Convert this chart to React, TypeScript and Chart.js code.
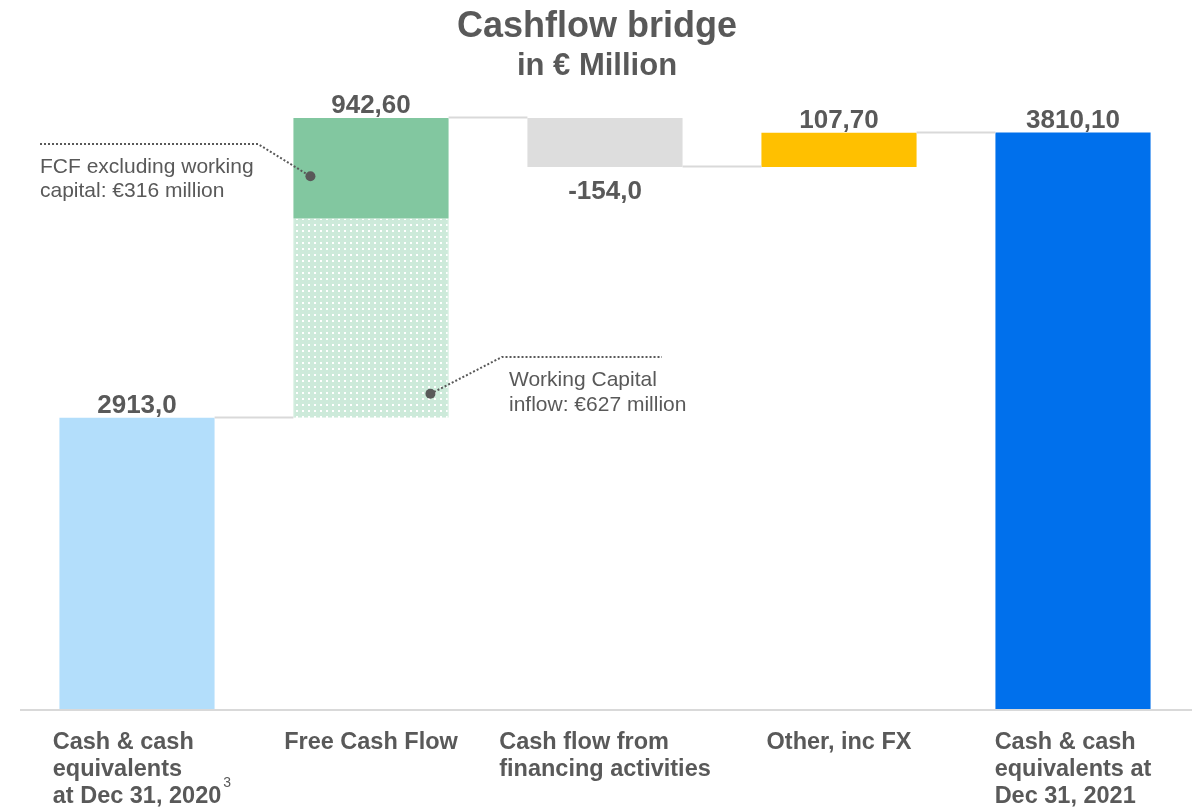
import React, { useEffect, useRef } from "react";
import { Chart, registerables } from "chart.js";

Chart.register(...registerables);

// ---------- data ----------
const categories: string[][] = [
  ["Cash & cash", "equivalents", "at Dec 31, 2020"],
  ["Free Cash Flow"],
  ["Cash flow from", "financing activities"],
  ["Other, inc FX"],
  ["Cash & cash", "equivalents at", "Dec 31, 2021"],
];
const footnotes = ["3", "", "", "", ""];
const barKinds = ["total", "delta", "delta", "delta", "total"];
const barValues = [2913.0, 942.6, -154.0, 107.7, 3810.1];
const valueDecimals = [1, 2, 1, 2, 2];
const workingCapitalInflow = 627; // lower (dotted) part of Free Cash Flow
const fcfExclWorkingCapital = 316;
const barColors = ["#B3DEFB", "#82C7A0", "#DDDDDD", "#FFC000", "#0070EC"];
const axisMin = 1994;
const axisMax = 3900;

const TEXT = "#595959";
const FONT = "'Liberation Sans', Arial, sans-serif";

function fmt(v: number, d: number) {
  return v.toFixed(d).replace(".", ",");
}

// floating ranges and running levels
const ranges: [number, number][] = [];
const levels: number[] = [];
{
  let running = 0;
  barValues.forEach((v, i) => {
    if (barKinds[i] === "total") {
      ranges.push([axisMin, v]);
      running = v;
    } else {
      const a = running;
      const b = running + v;
      ranges.push([Math.min(a, b), Math.max(a, b)]);
      running = b;
    }
    levels.push(running);
  });
}
// split the Free Cash Flow bar: solid top part + dotted working-capital part
const solidData: ([number, number] | null)[] = ranges.map((r, i) =>
  i === 1 ? [r[0] + workingCapitalInflow, r[1]] : r
);
const dottedData: ([number, number] | null)[] = ranges.map((r, i) =>
  i === 1 ? [r[0], r[0] + workingCapitalInflow] : null
);

function makePattern(): CanvasPattern | string {
  const c = document.createElement("canvas");
  c.width = 6;
  c.height = 6;
  const g = c.getContext("2d");
  if (!g) return "#CFEBDC";
  g.fillStyle = "#CDEADA";
  g.fillRect(0, 0, 6, 6);
  g.fillStyle = "#FFFFFF";
  g.fillRect(2, 2, 2, 2);
  return g.createPattern(c, "repeat") || "#CFEBDC";
}

const overlayPlugin = {
  id: "bridgeOverlay",
  afterDatasetsDraw(chart: any) {
    const ctx: CanvasRenderingContext2D = chart.ctx;
    const y = chart.scales.y;
    const area = chart.chartArea;
    const meta = chart.getDatasetMeta(0);
    const bars = meta.data;
    ctx.save();

    // axis line
    ctx.strokeStyle = "#D9D9D9";
    ctx.lineWidth = 2;
    ctx.beginPath();
    ctx.moveTo(area.left, area.bottom);
    ctx.lineTo(chart.width, area.bottom);
    ctx.stroke();

    // connectors
    for (let i = 0; i < bars.length - 1; i++) {
      const b = bars[i];
      const n = bars[i + 1];
      const py = Math.round(y.getPixelForValue(levels[i])) - 0.5;
      ctx.beginPath();
      ctx.moveTo(b.x + b.width / 2, py);
      ctx.lineTo(n.x - n.width / 2, py);
      ctx.stroke();
    }

    // value labels
    ctx.fillStyle = TEXT;
    ctx.font = `bold 26px ${FONT}`;
    ctx.textAlign = "center";
    ctx.textBaseline = "alphabetic";
    barValues.forEach((v, i) => {
      const b = bars[i];
      const r = ranges[i];
      const txt = fmt(v, valueDecimals[i]);
      if (barKinds[i] === "delta" && v < 0) {
        ctx.fillText(txt, b.x, y.getPixelForValue(r[0]) + 32);
      } else {
        ctx.fillText(txt, b.x, y.getPixelForValue(r[1]) - 5);
      }
    });

    // category labels (centered block, left-aligned lines)
    ctx.font = `bold 23.5px ${FONT}`;
    ctx.textAlign = "left";
    categories.forEach((lines, i) => {
      const b = bars[i];
      const w = Math.max(...lines.map((l) => ctx.measureText(l).width));
      const x0 = b.x - w / 2;
      lines.forEach((l, j) => {
        ctx.fillText(l, x0, area.bottom + 39 + j * 27);
      });
      if (footnotes[i]) {
        const last = lines[lines.length - 1];
        const lw = ctx.measureText(last).width;
        ctx.save();
        ctx.font = `14px ${FONT}`;
        ctx.fillText(footnotes[i], x0 + lw + 2, area.bottom + 39 + (lines.length - 1) * 27 - 16);
        ctx.restore();
        ctx.font = `bold 23.5px ${FONT}`;
      }
    });

    // annotations on the Free Cash Flow bar
    const f = bars[1];
    const fl = f.x - f.width / 2;
    const topPx = y.getPixelForValue(ranges[1][1]);
    const midPx = y.getPixelForValue(ranges[1][0] + workingCapitalInflow);
    const botPx = y.getPixelForValue(ranges[1][0]);
    const d1 = { x: fl + 17, y: topPx + (midPx - topPx) * 0.58 };
    const d2 = { x: fl + 137, y: botPx - 24 };
    ctx.strokeStyle = TEXT;
    ctx.fillStyle = TEXT;
    ctx.lineWidth = 2;
    ctx.setLineDash([2, 2]);
    ctx.beginPath();
    ctx.moveTo(40, 144);
    ctx.lineTo(258, 144);
    ctx.lineTo(d1.x, d1.y);
    ctx.stroke();
    ctx.beginPath();
    ctx.moveTo(d2.x, d2.y);
    ctx.lineTo(502, 357);
    ctx.lineTo(662, 357);
    ctx.stroke();
    ctx.setLineDash([]);
    [d1, d2].forEach((d) => {
      ctx.beginPath();
      ctx.arc(d.x, d.y, 5, 0, Math.PI * 2);
      ctx.fill();
    });
    ctx.font = `21px ${FONT}`;
    ctx.fillText("FCF excluding working", 40, 173);
    ctx.fillText(`capital: €${fcfExclWorkingCapital} million`, 40, 197);
    ctx.fillText("Working Capital", 509, 386);
    ctx.fillText(`inflow: €${workingCapitalInflow} million`, 509, 411);

    // title
    ctx.textAlign = "center";
    ctx.font = `bold 36px ${FONT}`;
    ctx.fillText("Cashflow bridge", 597, 37);
    ctx.font = `bold 31px ${FONT}`;
    ctx.fillText("in € Million", 597, 75);

    ctx.restore();
  },
};

export default function App() {
  const ref = useRef<HTMLCanvasElement | null>(null);
  useEffect(() => {
    if (!ref.current) return;
    const pattern = makePattern();
    const chart = new Chart(ref.current, {
      type: "bar",
      data: {
        labels: categories.map((c) => c.join(" ")),
        datasets: [
          {
            label: "Bridge",
            data: solidData as any,
            backgroundColor: barColors,
            borderWidth: 0,
            grouped: false,
            barPercentage: 0.663,
            categoryPercentage: 1,
          } as any,
          {
            label: "Working capital inflow",
            data: dottedData as any,
            backgroundColor: pattern as any,
            borderColor: "#A9DCBF",
            borderWidth: { left: 1, right: 1, top: 0, bottom: 0 },
            grouped: false,
            barPercentage: 0.663,
            categoryPercentage: 1,
          } as any,
        ],
      },
      options: {
        animation: false,
        responsive: false,
        maintainAspectRatio: false,
        devicePixelRatio: 1,
        layout: { padding: { top: 104, bottom: 99, left: 20, right: 2 } },
        plugins: {
          legend: { display: false },
          tooltip: { enabled: false },
          title: { display: false },
        },
        scales: {
          x: { display: false },
          y: { display: false, min: axisMin, max: axisMax },
        },
      },
      plugins: [overlayPlugin],
    });
    return () => chart.destroy();
  }, []);
  return (
    <div style={{ position: "absolute", left: 0, top: 0, width: 1192, height: 809, background: "#fff" }}>
      <canvas ref={ref} width={1192} height={809} style={{ display: "block", width: 1192, height: 809 }} />
    </div>
  );
}
